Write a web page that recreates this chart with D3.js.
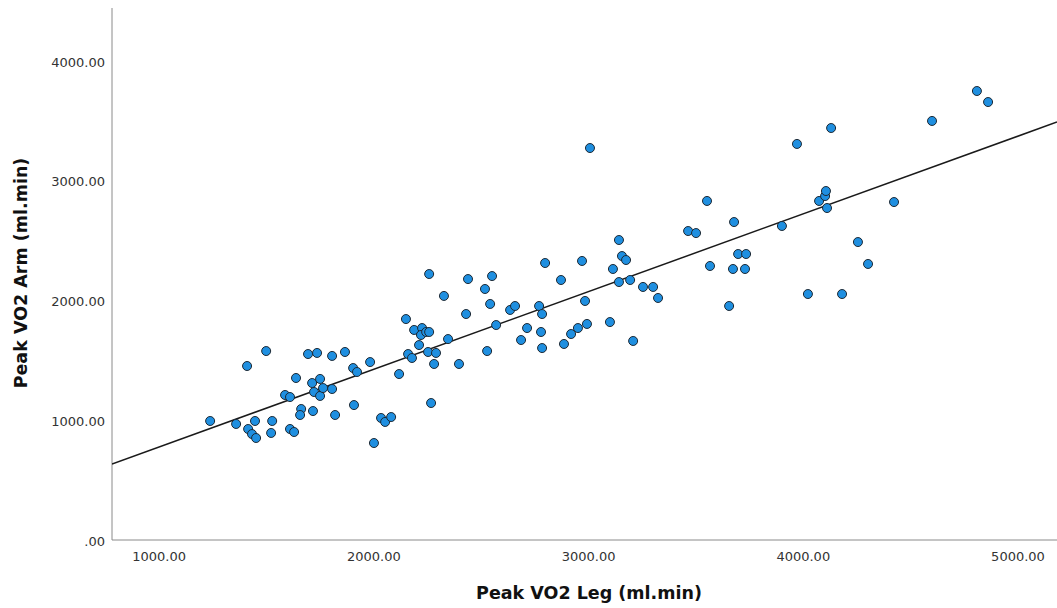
<!DOCTYPE html>
<html>
<head>
<meta charset="utf-8">
<script src="https://cdnjs.cloudflare.com/ajax/libs/d3/7.8.5/d3.min.js"></script>
<style>
  body { margin: 0; background: #fff; }
  svg { display: block; }
</style>
</head>
<body>
<svg id="chart"></svg>
<script>
const legVO2 = [
  1240, 1361, 1412, 1417, 1435, 1454, 1449, 1501, 1529, 1524,
  1589, 1612, 1612, 1631, 1640, 1664, 1659, 1696, 1715, 1752,
  1724, 1752, 1766, 1808, 1738, 1808, 1868, 1906, 1924, 1719,
  1822, 1910, 1985, 2003, 2036, 2055, 2083, 2120, 2152, 2162,
  2180, 2190, 2227, 2222, 2246, 2260, 2213, 2255, 2292, 2283,
  2269, 2260, 2329, 2348, 2399, 2432, 2441, 2520, 2553, 2544,
  2530, 2572, 2637, 2660, 2688, 2716, 2772, 2786, 2781, 2786,
  2800, 2874, 2888, 2921, 2953, 2972, 2986, 2995, 3009, 3102,
  3116, 3144, 3144, 3158, 3177, 3196, 3210, 3256, 3303, 3326,
  3466, 3503, 3554, 3568, 3657, 3675, 3680, 3699, 3731, 3736,
  3903, 3973, 4024, 4076, 4104, 4108, 4113, 4132, 4183, 4257,
  4304, 4425, 4602, 4811, 4863
]

const armVO2 = [
  1002, 977, 1461, 935, 893, 860, 1002, 1586, 1002, 902,
  1219, 1202, 935, 910, 1361, 1102, 1052, 1561, 1319, 1353,
  1244, 1211, 1277, 1269, 1570, 1545, 1578, 1444, 1411, 1085,
  1052, 1135, 1494, 818, 1027, 994, 1035, 1394, 1853, 1561,
  1528, 1762, 1778, 1720, 1745, 1745, 1636, 1578, 1570, 1478,
  1152, 2229, 2046, 1686, 1478, 1895, 2187, 2104, 2212, 1979,
  1586, 1803, 1929, 1962, 1678, 1778, 1962, 1895, 1745, 1611,
  2321, 2179, 1645, 1728, 1778, 2338, 2004, 1812, 3281, 1828,
  2271, 2513, 2162, 2379, 2346, 2179, 1670, 2121, 2121, 2029,
  2588, 2571, 2839, 2296, 1962, 2271, 2663, 2396, 2271, 2396,
  2630, 3315, 2062, 2839, 2880, 2922, 2780, 3448, 2062, 2496,
  2313, 2830, 3507, 3757, 3665
]

const xTicks = [1000, 2000, 3000, 4000, 5000]
const yTicks = [0, 1000, 2000, 3000, 4000]

// fit line as shown in the output
const fitIntercept = 135
const fitSlope = 0.6487

const width = 1057
const height = 608

const svg = d3.select('svg#chart')
  .attr('width', width)
  .attr('height', height)

const x = d3.scaleLinear().domain([783, 5184]).range([112, 1057])
const y = d3.scaleLinear().domain([0, 4450]).range([541, 8])

const fmt = d => d === 0 ? '.00' : d3.format('.2f')(d)

const axisColor = '#8a8a8a'

const xAxis = svg.append('g')
  .attr('transform', 'translate(0,540)')
  .call(d3.axisBottom(x).tickValues(xTicks).tickFormat(fmt).tickSize(0).tickPadding(12))
xAxis.select('.domain').attr('stroke', axisColor).attr('d', 'M112,0H1057')

const yAxis = svg.append('g')
  .attr('transform', 'translate(112,0)')
  .call(d3.axisLeft(y).tickValues(yTicks).tickFormat(fmt).tickSize(0).tickPadding(7))
yAxis.select('.domain').attr('stroke', axisColor).attr('d', 'M0,8V540')

svg.selectAll('.tick text')
  .attr('fill', '#333')
  .style('font-family', '"DejaVu Sans", sans-serif')
  .style('font-size', '13px')

const points = legVO2.map((d, i) => ({ leg: d, arm: armVO2[i] }))

svg.append('defs').append('clipPath')
  .attr('id', 'plot')
  .append('rect')
  .attr('x', 112).attr('y', 8)
  .attr('width', 945).attr('height', 532)

const xMin = x.domain()[0]
const xMax = x.domain()[1]

svg.append('line')
  .attr('clip-path', 'url(#plot)')
  .attr('x1', x(xMin))
  .attr('y1', y(fitIntercept + fitSlope * xMin))
  .attr('x2', x(xMax))
  .attr('y2', y(fitIntercept + fitSlope * xMax))
  .attr('stroke', '#1a1a1a')
  .attr('stroke-width', 1.5)

svg.append('g')
  .selectAll('circle')
  .data(points)
  .enter().append('circle')
  .attr('cx', d => x(d.leg))
  .attr('cy', d => y(d.arm))
  .attr('r', 4.5)
  .attr('fill', '#1f8fe0')
  .attr('stroke', '#1c2833')
  .attr('stroke-width', 1)

svg.append('text')
  .attr('x', 589)
  .attr('y', 599)
  .attr('text-anchor', 'middle')
  .style('font-family', '"DejaVu Sans", sans-serif')
  .style('font-weight', 'bold')
  .style('font-size', '17.5px')
  .attr('fill', '#111')
  .text('Peak VO2 Leg (ml.min)')

svg.append('text')
  .attr('transform', 'translate(27,273) rotate(-90)')
  .attr('text-anchor', 'middle')
  .style('font-family', '"DejaVu Sans", sans-serif')
  .style('font-weight', 'bold')
  .style('font-size', '17.5px')
  .attr('fill', '#111')
  .text('Peak VO2 Arm (ml.min)')
</script>
</body>
</html>
